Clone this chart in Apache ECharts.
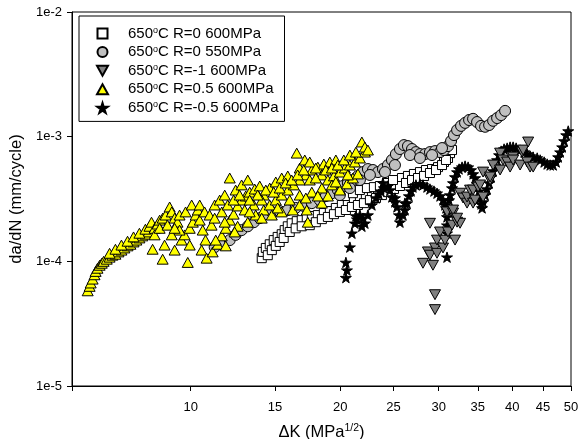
<!DOCTYPE html>
<html><head><meta charset="utf-8">
<script src="https://cdn.jsdelivr.net/npm/echarts@6/dist/echarts.min.js"></script>
<style>html,body{margin:0;padding:0;background:#fff}#c{width:580px;height:439px}</style>
</head><body><div id="c"></div>
<script>
// Series names (legend order)
const seriesNames = ['650ºC R=0 600MPa','650ºC R=0 550MPa','650ºC R=-1 600MPa','650ºC R=0.5 600MPa','650ºC R=-0.5 600MPa'];
// Tick labels
const xTickLabels = [10,15,20,25,30,35,40,45,50];
const yTickLabels = ['1e-5','1e-4','1e-3','1e-2'];
// The reference x scale is logarithmic in (ΔK + 5), spanning ΔK = 5 .. 50
const K_OFFSET = 5;
const xMinK = 5, xMaxK = 50;

// R=0 600MPa (squares)
const sqK = [14.12,14.19,14.39,14.65,14.92,15.19,15.47,15.68,15.90,16.18,16.55,16.92,17.30,17.69,18.16,18.64,19.13,19.63,20.14,20.66,21.20,21.74,22.29,22.86,23.44,24.03,24.63,25.24,25.87,26.51,27.16,27.83,28.51,29.21,29.92,30.64,31.13,31.38,31.63,
 14.52,14.79,15.06,15.33,15.61,16.04,16.47,16.92,17.53,18.00,18.48,18.97,19.47,19.97,20.49,21.02,21.56,22.11,22.67,23.25,23.83,24.43,25.04,25.66,26.30,26.95,27.61,28.29,28.97,29.68,30.40,30.88,
 20.40,21.11,21.74,22.39,23.05,23.63,24.33,24.94];
const sqRate = [1.06e-4,1.19e-4,1.28e-4,1.37e-4,1.48e-4,1.57e-4,1.65e-4,1.78e-4,1.91e-4,2.02e-4,2.10e-4,2.14e-4,2.22e-4,2.31e-4,2.35e-4,2.44e-4,2.53e-4,2.68e-4,2.83e-4,2.93e-4,3.10e-4,3.22e-4,3.40e-4,3.59e-4,3.80e-4,3.94e-4,4.18e-4,4.41e-4,4.66e-4,4.84e-4,5.02e-4,5.20e-4,5.40e-4,5.50e-4,5.70e-4,6.26e-4,6.74e-4,7.38e-4,7.81e-4,
 1.12e-4,1.23e-4,1.33e-4,1.43e-4,1.54e-4,1.72e-4,1.84e-4,1.91e-4,1.95e-4,2.06e-4,2.18e-4,2.27e-4,2.39e-4,2.49e-4,2.58e-4,2.73e-4,2.83e-4,2.93e-4,3.10e-4,3.22e-4,3.40e-4,3.59e-4,3.80e-4,4.02e-4,4.25e-4,4.49e-4,4.66e-4,4.84e-4,5.11e-4,5.40e-4,5.92e-4,6.50e-4,
 3.34e-4,3.52e-4,3.73e-4,3.87e-4,3.94e-4,4.02e-4,4.25e-4,4.49e-4];

// R=0 550MPa (circles)
const ciK = [11.28,11.68,12.14,12.49,12.85,13.23,13.61,13.99,14.39,14.79,15.33,15.90,16.47,17.07,17.69,18.32,18.80,19.30,19.80,20.23,20.66,21.11,21.56,22.02,22.48,22.96,23.44,23.93,24.43,24.83,25.24,25.66,26.08,26.51,26.95,27.38,27.83,28.40,28.97,29.56,30.16,30.64,31.13,31.51,31.88,32.27,32.78,33.30,33.83,34.36,34.90,35.45,36.01,36.58,37.15,37.73,38.32,38.91,
 19.97,20.84,21.74,22.67,24.13,25.14,26.73,27.83,29.21,30.40];
const ciRate = [1.30e-4,1.37e-4,1.48e-4,1.63e-4,1.78e-4,1.91e-4,2.06e-4,2.22e-4,2.39e-4,2.49e-4,2.53e-4,2.58e-4,2.68e-4,2.78e-4,2.93e-4,3.10e-4,3.34e-4,3.52e-4,3.73e-4,4.02e-4,4.25e-4,4.49e-4,4.84e-4,5.20e-4,5.50e-4,5.40e-4,5.20e-4,5.50e-4,5.92e-4,6.50e-4,7.25e-4,7.96e-4,8.56e-4,8.40e-4,7.96e-4,7.52e-4,7.25e-4,7.25e-4,7.52e-4,7.66e-4,7.52e-4,7.81e-4,8.40e-4,9.23e-4,1.03e-3,1.13e-3,1.22e-3,1.29e-3,1.36e-3,1.39e-3,1.31e-3,1.22e-3,1.20e-3,1.24e-3,1.34e-3,1.41e-3,1.49e-3,1.61e-3,
 3.40e-4,3.87e-4,4.49e-4,4.93e-4,5.20e-4,5.92e-4,7.12e-4,6.74e-4,7.12e-4,8.10e-4];

// R=-1 600MPa (down triangles)
const dtK = [28.17,28.74,28.97,28.97,29.32,29.56,29.56,29.56,29.80,29.80,30.16,30.52,30.76,31.01,31.13,31.63,31.76,32.01,32.27,32.65,32.65,33.04,33.56,33.56,33.96,34.36,34.36,34.63,35.04,35.31,35.73,35.73,36.72,36.72,37.15,38.17,38.17,38.61,39.22,39.67,40.13,40.13,41.22,41.54,41.70,42.34,42.51,42.83,43.33,31.76,32.27];
const dtRate = [9.65e-5,1.19e-4,1.12e-4,2.02e-4,9.3e-5,1.28e-4,5.4e-5,4.1e-5,1.48e-4,1.16e-4,1.72e-4,1.28e-4,1.48e-4,2.49e-4,1.72e-4,1.95e-4,2.44e-4,1.48e-4,2.06e-4,3.52e-4,2.02e-4,3.22e-4,2.93e-4,3.28e-4,3.73e-4,3.73e-4,2.93e-4,3.10e-4,3.94e-4,4.10e-4,5.20e-4,3.28e-4,4.49e-4,4.75e-4,5.92e-4,7.38e-4,5.40e-4,6.50e-4,6.26e-4,5.70e-4,6.86e-4,6.50e-4,5.92e-4,7.52e-4,7.81e-4,6.26e-4,9.06e-4,5.70e-4,5.70e-4,2.58e-4,2.22e-4];

// R=0.5 600MPa (yellow triangles)
const ytK = [5.55,5.62,5.66,5.73,5.80,5.84,5.91,5.99,6.07,6.14,6.26,6.37,6.48,6.60,6.72,6.84,6.96,7.09,7.21,7.34,7.46,7.59,7.72,7.85,7.99,
 6.37,6.60,6.84,7.09,7.34,7.59,7.85,8.03,8.12,8.26,8.40,8.49,8.63,8.77,8.96,9.06,9.20,9.34,8.72,8.17,8.63,9.20,9.85,9.54,9.69,9.95,10.11,10.26,10.37,10.47,10.63,10.78,10.57,10.84,11.17,11.45,11.68,11.91,12.14,12.37,12.61,12.85,13.10,13.35,13.67,13.99,
 11.28,11.56,11.85,12.14,12.49,12.85,13.23,11.11,11.85,12.61,13.23,13.73,14.25,14.65,15.06,15.47,15.90,16.33,16.77,17.23,17.69,18.16,18.64,19.13,19.63,
 14.25,14.65,15.06,15.47,15.90,16.55,16.77,17.15,17.53,18.00,18.48,18.97,19.47,19.97,20.40,20.84,21.29,21.74,22.20,21.92,22.20,22.48,
 14.79,15.47,16.26,16.77,17.30,17.38,16.77,17.69,18.48,19.30,19.97,20.58,21.11,21.56,18.48,18.97,14.12,13.61,13.04,12.43,11.91,11.34,9.95,9.44,9.06,
 8.26,8.49,8.86,9.20,9.44,9.74,10.05,10.47,10.73,11.00,11.28,11.68,12.02,12.37,12.73,13.35,13.86,14.39,14.92,15.33,15.75,16.18,16.62,17.07,17.53,18.00,18.80,19.30,19.80,20.31,20.84,21.38,20.66,19.63,18.16,17.23,16.04,15.19,14.12,13.35];
const ytRate = [5.8e-5,6.3e-5,6.7e-5,7.2e-5,7.8e-5,8.3e-5,8.8e-5,9.3e-5,9.65e-5,1.0e-4,1.04e-4,1.08e-4,1.12e-4,1.14e-4,1.19e-4,1.23e-4,1.28e-4,1.33e-4,1.37e-4,1.43e-4,1.48e-4,1.54e-4,1.60e-4,1.65e-4,1.72e-4,
 1.16e-4,1.25e-4,1.35e-4,1.45e-4,1.57e-4,1.68e-4,1.81e-4,1.91e-4,2.06e-4,1.84e-4,1.99e-4,2.14e-4,2.22e-4,2.35e-4,2.73e-4,2.49e-4,2.22e-4,2.06e-4,1.35e-4,1.25e-4,1.04e-4,1.23e-4,9.8e-5,1.48e-4,1.63e-4,1.84e-4,2.06e-4,2.35e-4,2.58e-4,2.14e-4,1.78e-4,1.48e-4,1.23e-4,1.06e-4,1.19e-4,1.37e-4,1.60e-4,1.84e-4,2.14e-4,2.39e-4,2.78e-4,3.10e-4,3.34e-4,3.59e-4,3.80e-4,4.02e-4,
 2.83e-4,3.10e-4,3.40e-4,4.66e-4,3.73e-4,4.10e-4,4.49e-4,1.95e-4,2.06e-4,1.91e-4,2.06e-4,2.35e-4,2.58e-4,2.83e-4,3.10e-4,3.40e-4,3.73e-4,4.10e-4,4.49e-4,4.93e-4,5.40e-4,5.70e-4,6.03e-4,6.26e-4,6.50e-4,
 3.40e-4,3.87e-4,4.33e-4,4.66e-4,4.84e-4,7.38e-4,5.60e-4,6.50e-4,6.26e-4,5.60e-4,4.93e-4,4.49e-4,4.84e-4,5.20e-4,5.60e-4,5.92e-4,6.26e-4,6.74e-4,7.52e-4,9.06e-4,8.25e-4,7.81e-4,
 2.35e-4,2.49e-4,2.58e-4,2.83e-4,2.58e-4,2.06e-4,3.40e-4,3.59e-4,3.87e-4,4.10e-4,3.73e-4,4.18e-4,4.66e-4,5.02e-4,2.93e-4,3.34e-4,3.10e-4,2.83e-4,2.58e-4,1.72e-4,1.33e-4,1.48e-4,1.35e-4,1.78e-4,1.63e-4,
 1.63e-4,1.84e-4,1.95e-4,1.84e-4,2.35e-4,2.49e-4,2.83e-4,2.83e-4,2.49e-4,2.35e-4,2.22e-4,2.49e-4,2.83e-4,3.10e-4,3.40e-4,3.10e-4,3.40e-4,3.73e-4,3.59e-4,3.87e-4,4.25e-4,4.49e-4,4.93e-4,5.40e-4,4.49e-4,4.66e-4,5.40e-4,5.60e-4,5.92e-4,6.50e-4,7.12e-4,7.52e-4,4.93e-4,4.33e-4,3.34e-4,3.22e-4,3.10e-4,2.68e-4,2.22e-4,2.49e-4];

// R=-0.5 600MPa (stars)
const stK = [20.49,20.58,20.49,20.84,21.02,21.29,21.47,21.74,22.02,22.20,22.48,22.86,23.25,23.53,23.73,24.03,24.43,24.63,24.83,25.14,25.35,25.56,25.66,25.98,26.19,26.41,26.62,26.84,27.05,27.38,27.83,28.17,28.63,28.97,29.44,29.80,30.16,30.52,30.76,31.01,31.01,31.01,31.01,31.01,31.26,31.38,31.63,31.76,32.01,32.27,32.52,32.91,33.30,33.70,34.09,34.36,34.63,34.90,35.17,35.31,35.45,35.59,35.73,36.01,36.29,36.58,36.86,37.15,37.44,37.73,38.02,38.32,38.76,39.22,39.67,40.13,40.60,41.22,41.86,42.34,42.83,43.33,44.00,44.50,45.18,45.70,46.22,46.75,47.28,47.64,48.00,48.37,48.74,49.11,49.48,
 21.38,21.92,23.93,25.14,26.19,30.88];
const stRate = [7.4e-5,8.5e-5,9.8e-5,1.30e-4,1.68e-4,2.02e-4,2.18e-4,2.35e-4,2.22e-4,2.02e-4,2.35e-4,2.83e-4,3.22e-4,3.46e-4,3.66e-4,3.87e-4,4.02e-4,3.73e-4,3.28e-4,2.99e-4,2.73e-4,2.35e-4,2.06e-4,2.35e-4,2.58e-4,2.93e-4,3.34e-4,3.66e-4,3.94e-4,4.10e-4,4.18e-4,4.10e-4,3.94e-4,3.80e-4,3.66e-4,3.52e-4,3.34e-4,3.10e-4,2.83e-4,2.58e-4,2.27e-4,1.95e-4,1.68e-4,1.08e-4,3.10e-4,3.40e-4,3.87e-4,4.25e-4,4.75e-4,5.20e-4,5.50e-4,5.70e-4,5.81e-4,5.70e-4,5.40e-4,5.02e-4,4.66e-4,4.18e-4,3.66e-4,3.22e-4,2.88e-4,2.68e-4,2.99e-4,3.40e-4,3.80e-4,4.25e-4,4.75e-4,5.30e-4,5.81e-4,6.50e-4,7.12e-4,7.66e-4,7.96e-4,8.10e-4,8.25e-4,8.25e-4,8.10e-4,7.81e-4,7.52e-4,7.25e-4,6.99e-4,6.86e-4,6.74e-4,6.50e-4,6.26e-4,6.03e-4,5.92e-4,5.92e-4,6.26e-4,6.86e-4,7.52e-4,8.25e-4,9.23e-4,1.03e-3,1.11e-3,
 2.31e-4,1.91e-4,4.25e-4,3.22e-4,2.93e-4,2.68e-4];

const FONT = '"Liberation Sans", Arial, sans-serif';
const pairs = (ks, rs) => ks.map((k, i) => [k + K_OFFSET, rs[i]]);
const STAR = 'path://M50,0 L61,35 L98,35 L68,57 L79,91 L50,70 L21,91 L32,57 L2,35 L39,35 Z';
const DOWN = 'path://M0,0 L100,0 L50,90 Z';
const UP = 'path://M50,0 L100,90 L0,90 Z';
const SQUARE = 'path://M0,0 L100,0 L100,100 L0,100 Z';

function mk(name, ks, rs, symbol, size, fill, z) {
  return {
    type: 'scatter', name, data: pairs(ks, rs), symbol, symbolSize: size, z,
    symbolKeepAspect: true,
    itemStyle: { color: fill, borderColor: '#000', borderWidth: 1, opacity: 1 },
    emphasis: { disabled: true }, silent: true
  };
}

const chart = echarts.init(document.getElementById('c'), null, { renderer: 'canvas' });
chart.setOption({
  animation: false,
  backgroundColor: '#fff',
  grid: { left: 72, right: 9, top: 12, bottom: 53, outerBoundsMode: 'none', containLabel: false,
          show: true, borderColor: '#000', borderWidth: 1, backgroundColor: 'transparent' },
  legend: {
    data: seriesNames, orient: 'vertical', left: 79, top: 16,
    padding: [10, 6, 6, 17], itemWidth: 11, itemHeight: 10, itemGap: 3.6,
    borderColor: '#000', borderWidth: 1, backgroundColor: '#fff',
    selectedMode: false,
    formatter: n => '{g| }' + n.replace('º', '{s|o}'),
    textStyle: { fontFamily: FONT, fontSize: 15, color: '#000', lineHeight: 15,
      rich: { g: { width: 15, fontSize: 15, lineHeight: 15 },
              s: { fontFamily: FONT, fontSize: 9, lineHeight: 15, verticalAlign: 'top', color: '#000' } } }
  },
  xAxis: {
    type: 'log', logBase: 10, min: xMinK + K_OFFSET, max: xMaxK + K_OFFSET,
    name: '{a|ΔK (MPa}{s|1/2}{a|)}', nameLocation: 'middle', nameGap: 37,
    nameTextStyle: { rich: { a: { fontFamily: FONT, fontSize: 16.5, color: '#000', lineHeight: 18 },
                             s: { fontFamily: FONT, fontSize: 10.5, color: '#000', lineHeight: 18, verticalAlign: 'top' } } },
    axisLine: { lineStyle: { color: '#000', width: 1 } },
    axisTick: { show: true, inside: false, length: 5, lineStyle: { color: '#000' },
      customValues: [xMinK].concat(xTickLabels).map(v => v + K_OFFSET) },
    axisLabel: { fontFamily: FONT, fontSize: 13, color: '#000', margin: 15,
      customValues: xTickLabels.map(v => v + K_OFFSET),
      formatter: v => String(Math.round(v - K_OFFSET)) },
    splitLine: { show: false }, minorTick: { show: false }
  },
  yAxis: {
    type: 'log', logBase: 10, min: 1e-5, max: 1e-2,
    name: 'da/dN (mm/cycle)', nameLocation: 'middle', nameGap: 46,
    nameTextStyle: { fontFamily: FONT, fontSize: 16.5, color: '#000' },
    axisLine: { lineStyle: { color: '#000', width: 1 } },
    axisTick: { show: true, inside: false, length: 5, lineStyle: { color: '#000' } },
    axisLabel: { fontFamily: FONT, fontSize: 13, color: '#000', margin: 10,
      formatter: v => yTickLabels[Math.round(Math.log10(v)) + 5] },
    splitLine: { show: false }, minorTick: { show: false }
  },
  series: [
    mk(seriesNames[0], sqK, sqRate, SQUARE, 9, '#ffffff', 2),
    mk(seriesNames[1], ciK, ciRate, 'circle', 11, '#c0c0c0', 3),
    mk(seriesNames[4], stK, stRate, STAR, 11, '#000000', 4),
    mk(seriesNames[2], dtK, dtRate, DOWN, 11, '#808080', 5),
    mk(seriesNames[3], ytK, ytRate, UP, 11, '#ffff00', 6)
  ]
});
</script></body></html>
